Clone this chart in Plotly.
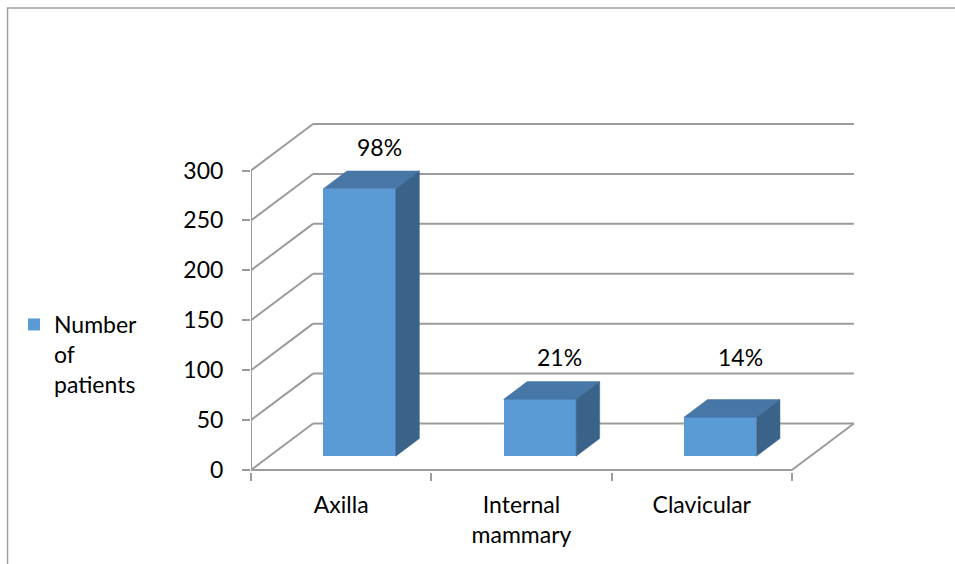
import plotly.graph_objects as go

# ---- data -------------------------------------------------------------
categories = ["Axilla", "Internal mammary", "Clavicular"]
tick_text = ["Axilla", "Internal<br>mammary", "Clavicular"]
patients = [268, 57, 39]
share_labels = ["98%", "21%", "14%"]
y_ticks = [0, 50, 100, 150, 200, 250, 300]
series_name = "Number<br>of<br>patients"

# ---- geometry / style -------------------------------------------------
W, H = 955, 564
ML, MR, MT, MB = 251, 80, 110, 92
PX_PER_CAT = 180.3
PX_PER_UNIT = 0.9983
Y_LOW = -2
plot_w = W - ML - MR
plot_h = H - MT - MB
x_range = [-0.5, -0.5 + plot_w / PX_PER_CAT]
y_range = [Y_LOW, Y_LOW + plot_h / PX_PER_UNIT]

# oblique depth of the floor and walls, in axis units
DEPTH_X = 62 / PX_PER_CAT
DEPTH_Y = 46.5 / PX_PER_UNIT
# slice of the depth taken by each bar block
F_FRONT, F_BACK = 0.297, 0.677
BAR_W = 0.402
# short bars keep their labels no lower than this level
LABEL_FLOOR = 57
LABEL_DX = 0.11
LABEL_DY = 42 / PX_PER_UNIT

FONT = "Lato"
FS = 23
GRID = "#9B9B9B"
FRONT_C = "#5B9BD5"
TOP_C = "#4677A7"
SIDE_C = "#3A6389"

n = len(categories)
x_lo, x_hi = -0.5, n - 0.5
y_top = max(y_ticks)

fig = go.Figure()

# front faces of the bars
ddx = (F_BACK - F_FRONT) * DEPTH_X
ddy = (F_BACK - F_FRONT) * DEPTH_Y
base = F_FRONT * DEPTH_Y
xs = [i + F_FRONT * DEPTH_X for i in range(n)]
fig.add_trace(go.Bar(
    x=xs, y=patients, base=[base] * n, width=BAR_W,
    marker=dict(color=FRONT_C, line=dict(width=0)),
    name=series_name, hoverinfo="skip", showlegend=True,
))

# top and side faces of each block
for xc, v in zip(xs, patients):
    xl, xr = xc - BAR_W / 2, xc + BAR_W / 2
    yb, yt = base, base + v
    fig.add_trace(go.Scatter(
        x=[xl, xr, xr + ddx, xl + ddx, xl],
        y=[yt, yt, yt + ddy, yt + ddy, yt],
        mode="lines", fill="toself", fillcolor=TOP_C,
        line=dict(color=TOP_C, width=0.5),
        hoverinfo="skip", showlegend=False,
    ))
    fig.add_trace(go.Scatter(
        x=[xr, xr, xr + ddx, xr + ddx, xr],
        y=[yb, yt, yt + ddy, yb + ddy, yb],
        mode="lines", fill="toself", fillcolor=SIDE_C,
        line=dict(color=SIDE_C, width=0.5),
        hoverinfo="skip", showlegend=False,
    ))

# walls, floor and axis lines
shapes = []
line = dict(color=GRID, width=2)
for t in y_ticks:
    shapes.append(dict(type="line", xref="x", yref="y", layer="below",
                       x0=x_lo, y0=t, x1=x_lo + DEPTH_X, y1=t + DEPTH_Y, line=line))
    shapes.append(dict(type="line", xref="x", yref="y", layer="below",
                       x0=x_lo + DEPTH_X, y0=t + DEPTH_Y,
                       x1=x_hi + DEPTH_X, y1=t + DEPTH_Y, line=line))
shapes.append(dict(type="line", xref="x", yref="y", layer="below",
                   x0=x_lo, y0=0, x1=x_hi, y1=0, line=line))
shapes.append(dict(type="line", xref="x", yref="y", layer="below",
                   x0=x_hi, y0=0, x1=x_hi + DEPTH_X, y1=DEPTH_Y, line=line))
shapes.append(dict(type="line", xref="x", yref="y", layer="below",
                   x0=x_lo, y0=0, x1=x_lo, y1=y_top, line=line))

# outer chart frame
def px_to_paper_x(px):
    return (px - ML) / plot_w

def px_to_paper_y(py):
    return (H - MB - py) / plot_h

shapes.append(dict(type="rect", xref="paper", yref="paper", layer="below",
                   x0=px_to_paper_x(7.5), x1=px_to_paper_x(W + 20),
                   y0=px_to_paper_y(H + 20), y1=px_to_paper_y(8),
                   line=dict(color="#A0A0A0", width=1.5)))

# percentage labels above the blocks
annotations = []
for xc, v, s in zip(xs, patients, share_labels):
    annotations.append(dict(
        x=xc + LABEL_DX, y=base + max(v, LABEL_FLOOR) + LABEL_DY,
        xref="x", yref="y", text=s, showarrow=False,
        xanchor="center", yanchor="middle",
        font=dict(family=FONT, size=FS, color="#000000"),
    ))

fig.update_layout(
    width=W, height=H,
    margin=dict(l=ML, r=MR, t=MT, b=MB, pad=0),
    paper_bgcolor="white", plot_bgcolor="white",
    font=dict(family=FONT, size=FS, color="#000000"),
    shapes=shapes, annotations=annotations,
    bargap=0,
    xaxis=dict(
        range=x_range, showgrid=False, zeroline=False, showline=False,
        tickvals=list(range(n)), ticktext=tick_text, ticks="",
        ticklabelstandoff=17,
        minor=dict(tickvals=[x_lo + k for k in range(n + 1)], ticks="outside",
                   ticklen=8, tickwidth=2, tickcolor=GRID),
        fixedrange=True,
    ),
    yaxis=dict(
        range=y_range, showgrid=False, zeroline=False, showline=False,
        tickvals=y_ticks, ticks="outside", ticklen=8, tickwidth=2,
        tickcolor=GRID, ticklabelstandoff=14, fixedrange=True,
    ),
    legend=dict(
        x=px_to_paper_x(14), y=px_to_paper_y(303),
        xanchor="left", yanchor="top", valign="top",
        font=dict(family=FONT, size=FS, color="#000000"),
        bgcolor="rgba(0,0,0,0)",
    ),
)

fig.write_html("out.html")
